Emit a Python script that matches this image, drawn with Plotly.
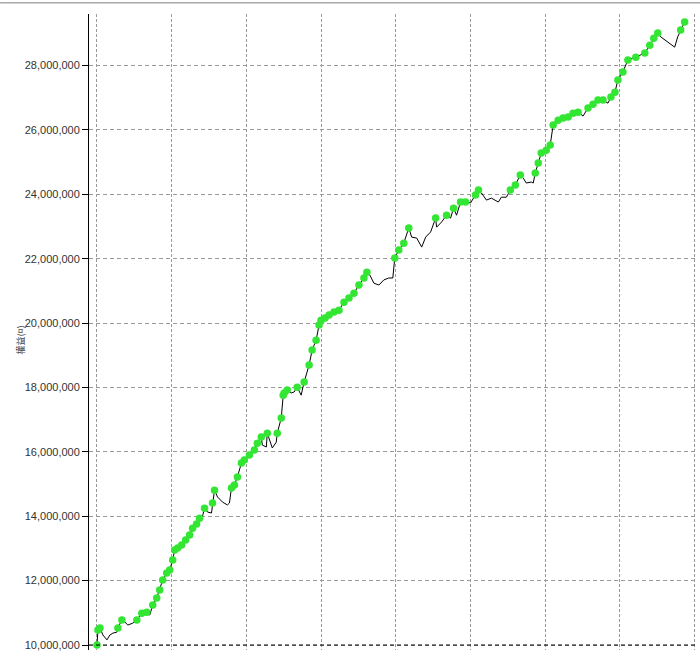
import plotly.graph_objects as go

# trade index (x) and equity in millions
trade = [0, 1, 3, 6, 10, 13, 16, 20, 21, 25, 28, 31, 36, 40, 45, 50, 53, 56, 60, 63,
         66, 70, 73, 76, 78, 81, 85, 89, 93, 96, 100, 103, 105, 108, 111, 115, 116, 118, 121, 126,
         131, 133, 135, 138, 141, 145, 148, 153, 158, 161, 165, 166, 170, 171, 175, 176, 180, 181, 185, 187,
         188, 191, 195, 198, 201, 205, 208, 213, 216, 220, 223, 225, 229, 233, 238, 243, 248, 253, 258, 263,
         268, 271, 274, 278, 283, 288, 293, 297, 299, 303, 308, 313, 316, 321, 326, 330, 335, 340, 341, 346,
         351, 355, 358, 361, 365, 370, 375, 380, 383, 386, 391, 396, 403, 406, 411, 415, 420, 425, 428, 431,
         436, 438, 440, 443, 446, 451, 455, 458, 463, 468, 473, 478, 483, 488, 493, 498, 503, 508, 513, 516,
         520, 523, 528, 533, 541, 550, 555, 559, 563, 566, 573, 580, 583, 586, 590]
equity_m = [10.00, 10.47, 10.53, 10.31, 10.16, 10.31, 10.37, 10.40, 10.53, 10.78, 10.71, 10.62, 10.68, 10.78, 10.99, 11.02, 10.93, 11.24, 11.46, 11.71,
            12.02, 12.24, 12.33, 12.64, 12.95, 13.01, 13.11, 13.26, 13.42, 13.63, 13.76, 13.94, 13.88, 14.25, 14.13, 14.10, 14.41, 14.81, 14.60, 14.44,
            14.35, 14.41, 14.88, 14.97, 15.22, 15.65, 15.75, 15.90, 16.06, 16.27, 16.46, 16.21, 16.15, 16.58, 16.21, 16.12, 16.30, 16.58, 17.05, 17.76,
            17.83, 17.92, 17.83, 17.86, 18.01, 17.76, 18.17, 18.70, 19.16, 19.47, 19.94, 20.09, 20.16, 20.25, 20.34, 20.40, 20.65, 20.78, 20.93, 21.18,
            21.40, 21.58, 21.49, 21.24, 21.18, 21.34, 21.40, 21.40, 22.02, 22.27, 22.48, 22.95, 22.67, 22.64, 22.36, 22.67, 22.83, 23.26, 22.98, 23.14,
            23.35, 23.26, 23.57, 23.35, 23.76, 23.76, 23.73, 23.98, 24.13, 24.04, 23.82, 23.88, 23.76, 23.91, 23.91, 24.13, 24.29, 24.60, 24.50, 24.35,
            24.38, 24.35, 24.66, 24.97, 25.28, 25.37, 25.53, 26.15, 26.30, 26.37, 26.40, 26.52, 26.55, 26.43, 26.68, 26.80, 26.93, 26.93, 26.83, 27.02,
            27.17, 27.55, 27.80, 28.17, 28.26, 28.39, 28.63, 28.85, 29.01, 28.89, 28.73, 28.57, 28.89, 29.10, 29.35]

y_title = "權益(¤)"
y_ticks = [10e6, 12e6, 14e6, 16e6, 18e6, 20e6, 22e6, 24e6, 26e6, 28e6]

equity = [v * 1e6 for v in equity_m]

# new equity highs get green markers
hx, hy = [], []
peak = -1
for t, v in zip(trade, equity):
    if v >= peak:
        peak = v
        hx.append(t)
        hy.append(v)

fig = go.Figure()
fig.add_trace(go.Scatter(x=trade, y=equity, mode="lines",
                         line=dict(color="black", width=1), hoverinfo="skip"))
fig.add_trace(go.Scatter(x=hx, y=hy, mode="markers",
                         marker=dict(color="rgb(51,230,51)", size=7.5, line=dict(width=0))))

fig.add_shape(type="line", xref="paper", yref="y", x0=0, x1=1, y0=10e6, y1=10e6,
              line=dict(color="black", width=1, dash="4px,3px"))
fig.add_shape(type="line", xref="paper", yref="paper", x0=-0.146, x1=1.01, y0=1.0175, y1=1.0175,
              line=dict(color="#a8a8a8", width=1.5))

fig.add_annotation(text=y_title, xref="paper", yref="paper", x=-0.127, y=0.487,
                   textangle=-90, showarrow=False, font=dict(size=9, color="#444",
                   family="Noto Sans CJK TC"))

fig.update_layout(
    width=700, height=653,
    margin=dict(l=89, r=2, t=14, b=3),
    paper_bgcolor="white", plot_bgcolor="white",
    showlegend=False,
    font=dict(family="Liberation Sans, Arial", size=11, color="#333"),
    xaxis=dict(range=[-8, 603.4], dtick=75, tick0=0, showticklabels=False, ticks="",
               showgrid=True, gridcolor="#9a9a9a", gridwidth=1, griddash="3px,2px",
               zeroline=False, showline=False),
    yaxis=dict(range=[9.845e6, 29.6e6], tickvals=y_ticks, tickformat=",d",
               ticks="outside", ticklen=6, tickcolor="black",
               showgrid=True, gridcolor="#9a9a9a", gridwidth=1, griddash="4px,3px",
               zeroline=False, showline=True, linecolor="black", linewidth=1),
)

fig.write_html("out.html", config={"displayModeBar": False},
               post_script="document.body.style.margin='0';document.body.style.overflow='hidden';")
